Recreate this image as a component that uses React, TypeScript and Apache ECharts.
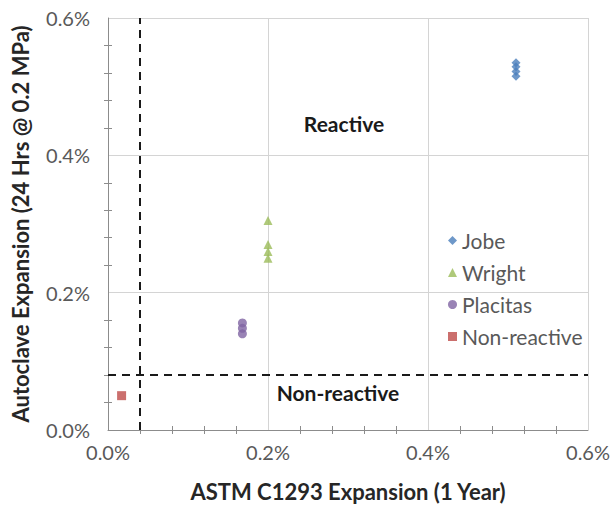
import React, { useEffect, useRef } from "react";
import * as echarts from "echarts";

const jobe: number[][] = [[0.51, 0.515], [0.51, 0.522], [0.51, 0.529], [0.51, 0.535]];
const wright: number[][] = [[0.2, 0.305], [0.2, 0.27], [0.2, 0.26], [0.2, 0.25]];
const placitas: number[][] = [[0.168, 0.156], [0.168, 0.148], [0.168, 0.14]];
const nonReactive: number[][] = [[0.017, 0.05]];
const c1293Limit = 0.04;
const autoclaveLimit = 0.08;
const zoneLabels = [
  { name: "Reactive", coord: [0.295, 0.447] },
  { name: "Non-reactive", coord: [0.2875, 0.054] },
];

const FONT = "Lato, 'Open Sans', sans-serif";

export default function App() {
  const ref = useRef<HTMLDivElement>(null);
  useEffect(() => {
    if (!ref.current) return;
    const chart = echarts.init(ref.current, undefined, { renderer: "svg" });
    const axisCommon = {
      type: "value" as const,
      min: 0,
      max: 0.6,
      interval: 0.2,
      axisLine: { show: true, lineStyle: { color: "#8c8c8c", width: 1 } },
      axisTick: { show: false },
      minorTick: { show: true, splitNumber: 5, length: 4, lineStyle: { color: "#8c8c8c" } },
      splitLine: { show: true, lineStyle: { color: "#d4d4d4", width: 1 } },
      axisLabel: {
        color: "#595959",
        fontSize: 20,
        fontFamily: FONT,
        formatter: (v: number) => v.toFixed(1) + "%",
      },
      nameTextStyle: { color: "#262626", fontSize: 22, fontWeight: "bold" as const, fontFamily: FONT },
    };
    const overlay = {
      type: "value" as const,
      min: 0,
      max: 0.6,
      interval: 0.2,
      axisLine: { show: false },
      axisTick: { show: false, inside: true },
      minorTick: { show: true, splitNumber: 5, length: 4, lineStyle: { color: "#8c8c8c" } },
      splitLine: { show: false },
      axisLabel: { show: false },
    };
    chart.setOption({
      animation: false,
      backgroundColor: "#ffffff",
      grid: { left: 108, right: 26, top: 18, bottom: 78, containLabel: false },
      xAxis: [
        {
          ...axisCommon,
          name: "ASTM C1293 Expansion (1 Year)",
          nameLocation: "middle",
          nameGap: 50,
          axisLabel: { ...axisCommon.axisLabel, margin: 12 },
        },
        { ...overlay, position: "bottom" },
      ],
      yAxis: [
        {
          ...axisCommon,
          name: "Autoclave Expansion (24 Hrs @ 0.2 MPa)",
          nameLocation: "middle",
          nameGap: 77,
          axisLabel: { ...axisCommon.axisLabel, margin: 18 },
        },
        { ...overlay, position: "left" },
      ],
      legend: {
        orient: "vertical",
        left: 443,
        top: 225,
        itemGap: 11,
        itemWidth: 9,
        itemHeight: 9,
        textStyle: { color: "#595959", fontSize: 21, fontFamily: FONT },
        data: [
          { name: "Jobe", icon: "diamond" },
          { name: "Wright", icon: "triangle" },
          { name: "Placitas", icon: "circle" },
          { name: "Non-reactive", icon: "rect" },
        ],
      },
      series: [
        {
          name: "Jobe",
          type: "scatter",
          symbol: "diamond",
          symbolSize: 9,
          itemStyle: { color: "#4a7ebb" },
          data: jobe,
          markLine: {
            silent: true,
            symbol: "none",
            label: { show: false },
            lineStyle: { color: "#1a1a1a", type: [8, 6], width: 2 },
            data: [{ xAxis: c1293Limit }, { yAxis: autoclaveLimit }],
          },
          markPoint: {
            symbol: "circle",
            symbolSize: 0,
            label: {
              show: true,
              color: "#1a1a1a",
              fontSize: 21,
              fontWeight: "bold",
              fontFamily: FONT,
              formatter: (p: any) => p.name,
            },
            data: zoneLabels.map((z) => ({ name: z.name, coord: z.coord })),
          },
        },
        {
          name: "Wright",
          type: "scatter",
          symbol: "triangle",
          symbolSize: 9,
          itemStyle: { color: "#9bbb59" },
          data: wright,
        },
        {
          name: "Placitas",
          type: "scatter",
          symbol: "circle",
          symbolSize: 9,
          itemStyle: { color: "#8064a2" },
          data: placitas,
        },
        {
          name: "Non-reactive",
          type: "scatter",
          symbol: "rect",
          symbolSize: 9,
          itemStyle: { color: "#be4b48" },
          data: nonReactive,
        },
      ],
    });
    return () => chart.dispose();
  }, []);
  return <div ref={ref} style={{ width: 614, height: 508, position: "absolute", left: 0, top: 0 }} />;
}
